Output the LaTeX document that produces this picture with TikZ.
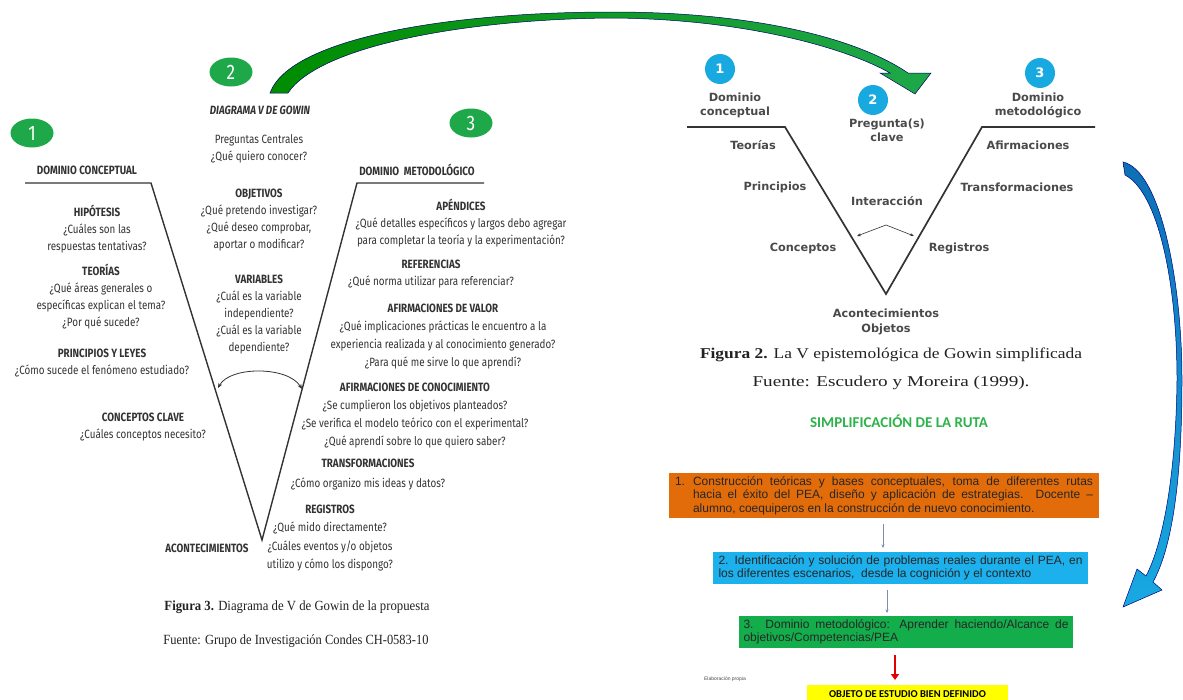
\documentclass[tikz,border=0pt]{standalone}
\usepackage{fontspec}
\usepackage{graphicx}
\setmainfont{Liberation Serif}
\newfontfamily\vf[FakeStretch=0.82]{Fira Sans}
\newfontfamily\rv{DejaVu Sans}
\newfontfamily\ar{Liberation Sans}
\newfontfamily\carl{Carlito}
\usetikzlibrary{arrows.meta,shapes.geometric}
\definecolor{vtext}{HTML}{333333}
\definecolor{rvgray}{HTML}{4A4A4A}
\definecolor{gcirc}{HTML}{1FA84A}
\definecolor{bcirc}{HTML}{18A9E1}
\definecolor{obox}{HTML}{E36C0A}
\definecolor{bbox}{HTML}{1CB0EC}
\definecolor{gbox}{HTML}{13AE4B}
\definecolor{ybox}{HTML}{FFFF00}
\definecolor{simpg}{HTML}{2DB34A}
\definecolor{capt}{HTML}{222222}
\definecolor{flowline}{HTML}{7A8FB0}
\definecolor{darkblue}{HTML}{0E6FB5}
\newcommand{\fitw}[2]{\resizebox{#1pt}{\height}{#2}}
\tikzset{
  lv/.style={font=\vf\fontsize{12}{17}\selectfont, text=vtext, align=center, inner sep=0pt},
  lvh/.style={font=\vf\bfseries\fontsize{12}{17}\selectfont, text=vtext, inner sep=0pt},
  rvt/.style={font=\rv\bfseries\fontsize{11.3}{14.5}\selectfont, text=rvgray, align=center, inner sep=0pt},
  gnum/.style={ellipse, fill=gcirc, minimum width=43pt, minimum height=29pt, inner sep=0pt, text=white, font=\vf\fontsize{21}{21}\selectfont},
  bnum/.style={circle, fill=bcirc, minimum size=30pt, inner sep=0pt, text=white, font=\rv\bfseries\fontsize{13}{13}\selectfont},
  vline/.style={draw=vtext, line width=1.4pt},
  caption/.style={font=\fontsize{14}{14}\selectfont, text=capt, inner sep=0pt},
  flowbox/.style={inner sep=0pt, font=\ar\fontsize{12}{13.5}\selectfont, text=black!85},
  flowarrow/.style={draw=flowline, line width=0.7pt, -{Stealth[length=3.5pt,width=3pt]}},
  smallarrow/.style={draw=vtext, line width=0.8pt},
}
\begin{document}
\begin{tikzpicture}[x=1pt,y=-1pt]
\useasboundingbox[fill=white] (0,0) rectangle (1183,699);

% ================= LEFT V =================
\coordinate (lA) at (25,183);
\coordinate (lB) at (151,183);
\coordinate (lV) at (262,540);
\coordinate (lC) at (357,183);
\coordinate (lD) at (484,183);
\draw[vline] (lA) -- (lB) -- (lV) -- (lC) -- (lD);

\node[gnum] (g1) at (32,133) {1};
\node[gnum] (g2) at (231,72) {2};
\node[gnum] (g3) at (471,123) {3};

\node[lvh] (dc) at (87,170) {DOMINIO CONCEPTUAL};
\node[lv] (hip) at (97,229) {\textbf{HIPÓTESIS}\\¿Cuáles son las\\respuestas tentativas?};
\node[lv] (teo) at (101,297) {\textbf{TEORÍAS}\\¿Qué áreas generales o\\específicas explican el tema?\\¿Por qué sucede?};
\node[lv] (pri) at (102,363) {\textbf{PRINCIPIOS Y LEYES}\\¿Cómo sucede el fenómeno estudiado?};
\node[lv] (con) at (143,427) {\textbf{CONCEPTOS CLAVE}\\¿Cuáles conceptos necesito?};
\node[lvh] (acon) at (207,548) {ACONTECIMIENTOS};

\node[lvh, font=\vf\bfseries\itshape\fontsize{12}{17}\selectfont] (dtit) at (260,110) {DIAGRAMA V DE GOWIN};
\node[lv] (preg) at (259,149) {Preguntas Centrales\\¿Qué quiero conocer?};
\node[lv] (obj) at (259,220) {\textbf{OBJETIVOS}\\¿Qué pretendo investigar?\\¿Qué deseo comprobar,\\aportar o modificar?};
\node[lv] (var) at (259,315) {\textbf{VARIABLES}\\¿Cuál es la variable\\independiente?\\¿Cuál es la variable\\dependiente?};

\node[lvh] (dm) at (417,170) {DOMINIO\ \ METODOLÓGICO};
\node[lv] (ape) at (461,223) {\textbf{APÉNDICES}\\¿Qué detalles específicos y largos debo agregar\\para completar la teoría y la experimentación?};
\node[lv] (ref) at (431,274) {\textbf{REFERENCIAS}\\¿Qué norma utilizar para referenciar?};
\node[lv, font=\vf\fontsize{12}{18}\selectfont] (afv) at (443,337) {\textbf{AFIRMACIONES DE VALOR}\\¿Qué implicaciones prácticas le encuentro a la\\experiencia realizada y al conocimiento generado?\\¿Para qué me sirve lo que aprendí?};
\node[lv, font=\vf\fontsize{12}{18}\selectfont] (afc) at (415,416) {\textbf{AFIRMACIONES DE CONOCIMIENTO}\\¿Se cumplieron los objetivos planteados?\\¿Se verifica el modelo teórico con el experimental?\\¿Qué aprendí sobre lo que quiero saber?};
\node[lv, font=\vf\fontsize{12}{20}\selectfont] (tra) at (368,475) {\textbf{TRANSFORMACIONES}\\¿Cómo organizo mis ideas y datos?};
\node[lv, font=\vf\fontsize{12}{18.5}\selectfont] (reg) at (330,538) {\textbf{REGISTROS}\\¿Qué mido directamente?\\¿Cuáles eventos y/o objetos\\utilizo y cómo los dispongo?};

\coordinate (la1) at (218,388);
\coordinate (la2) at (302,389);
\draw[smallarrow, {Stealth[length=5pt,width=4pt]}-{Stealth[length=5pt,width=4pt]}] (la1) .. controls (230,366) and (288,366) .. (la2);

\node[caption] (cap3) at (297,607) {\fitw{265}{\textbf{Figura 3.} Diagrama de V de Gowin de la propuesta}};
\node[caption] (src3) at (296,641) {\fitw{265}{Fuente: Grupo de Investigación Condes CH-0583-10}};

% ================= BIG GREEN ARROW =================
\path[draw=blue!40!black, line width=0.5pt, left color=green!55!black, middle color=blue!55!black, right color=gcirc]
  (270,93) .. controls (290,38) and (450,12) .. (612,12)
  .. controls (760,12) and (860,40) .. (908,73)
  -- (931,73) -- (915,94) -- (880,73) -- (890,73)
  .. controls (850,50) and (750,19) .. (612,18)
  .. controls (470,19) and (320,45) .. (288,93) -- cycle;

% ================= RIGHT V =================
\coordinate (rA) at (687,127);
\coordinate (rB) at (785,127);
\coordinate (rV) at (886,294);
\coordinate (rC) at (982,127);
\coordinate (rD) at (1095,127);
\draw[vline, line width=1.7pt] (rA) -- (rB) -- (rV) -- (rC) -- (rD);

\node[bnum] (b1) at (720,69) {1};
\node[bnum] (b2) at (873,100) {2};
\node[bnum] (b3) at (1040,73) {3};

\node[rvt] (rdc) at (735,105.5) {Dominio\\conceptual};
\node[rvt] (rpq) at (887,130.5) {Pregunta(s)\\clave};
\node[rvt] (rdm) at (1038,105.5) {Dominio\\metodológico};
\node[rvt] (rteo) at (753,145) {Teorías};
\node[rvt] (rpri) at (775,187) {Principios};
\node[rvt] (rint) at (887,201) {Interacción};
\node[rvt] (rafi) at (1028,145) {Afirmaciones};
\node[rvt] (rtra) at (1017,187) {Transformaciones};
\node[rvt] (rcon) at (803,248) {Conceptos};
\node[rvt] (rreg) at (959,248) {Registros};
\node[rvt] (racon) at (886,322) {Acontecimientos\\Objetos};

\coordinate (ri0) at (886,225);
\coordinate (ri1) at (857,236);
\coordinate (ri2) at (914,236);
\draw[smallarrow, line width=0.6pt, -{Stealth[length=4pt,width=3pt]}] (ri0) -- (ri1);
\draw[smallarrow, line width=0.6pt, -{Stealth[length=4pt,width=3pt]}] (ri0) -- (ri2);

\node[caption, font=\fontsize{15}{15}\selectfont] (cap2) at (891,355) {\fitw{382}{\textbf{Figura 2.} La V epistemológica de Gowin simplificada}};
\node[caption, font=\fontsize{15}{15}\selectfont] (src2) at (891,383) {\fitw{277}{Fuente: Escudero y Moreira (1999).}};

\node[inner sep=0pt, text=simpg, font=\carl\bfseries\fontsize{15}{15}\selectfont] (simp) at (899,421) {SIMPLIFICACIÓN DE LA RUTA};

% ================= BLUE RIGHT ARROW =================
\path[draw=blue!50!black, line width=0.5pt, top color=darkblue, bottom color=bcirc]
  (1123,162) .. controls (1160,170) and (1182,280) .. (1182,380)
  .. controls (1182,480) and (1172,548) .. (1153,582)
  -- (1162,590) -- (1123,607) -- (1137,569) -- (1146,576)
  .. controls (1164,542) and (1176,470) .. (1177,380)
  .. controls (1177,282) and (1158,192) .. (1125,175) -- cycle;

% ================= FLOW BOXES =================
\node[flowbox, fill=obox, minimum width=430pt, minimum height=45pt] (box1) at (884,495.5) {\parbox{418pt}{\hangindent=18pt\hangafter=1\noindent\makebox[18pt][l]{1.}Construcción teóricas y bases conceptuales, toma de diferentes rutas\linebreak hacia el éxito del PEA, diseño y aplicación de estrategias. Docente –\linebreak alumno, coequiperos en la construcción de nuevo conocimiento.}};
\node[flowbox, fill=bbox, minimum width=375pt, minimum height=32pt] (box2) at (900.5,568) {\parbox{364pt}{\noindent 2. Identificación y solución de problemas reales durante el PEA, en\linebreak los diferentes escenarios,\ \ desde la cognición y el contexto}};
\node[flowbox, fill=gbox, minimum width=334pt, minimum height=32pt] (box3) at (906,632) {\parbox{325pt}{\noindent 3. Dominio metodológico: Aprender haciendo/Alcance de\linebreak objetivos/Competencias/PEA}};
\node[inner sep=0pt, fill=ybox, minimum width=201pt, minimum height=18pt, font=\carl\bfseries\fontsize{10.5}{10.5}\selectfont, text=black] (box4) at (907.5,694) {OBJETO DE ESTUDIO BIEN DEFINIDO};

\coordinate (f1a) at (883,524);
\coordinate (f1b) at (883,548);
\draw[flowarrow] (f1a) -- (f1b);
\coordinate (f2a) at (887,590);
\coordinate (f2b) at (887,613);
\draw[flowarrow] (f2a) -- (f2b);
\coordinate (f3a) at (895,655);
\coordinate (f3b) at (895,680);
\draw[draw=red!90!black, line width=2.2pt, -{Triangle[length=6pt,width=8pt]}] (f3a) -- (f3b);

\node[inner sep=0pt, font=\ar\fontsize{5}{5}\selectfont, text=black!70] (elab) at (725,679) {Elaboración propia};
\end{tikzpicture}
\end{document}
